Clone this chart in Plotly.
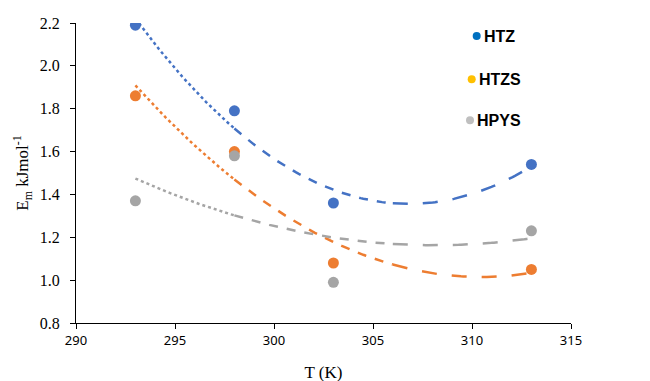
import numpy as np
import plotly.graph_objects as go

T = [293, 298, 303, 313]
htz = [2.19, 1.79, 1.36, 1.54]
htzs = [1.86, 1.60, 1.08, 1.05]
hpys = [1.37, 1.58, 0.99, 1.23]
names = ["HTZ", "HTZS", "HPYS"]
series = [htz, htzs, hpys]
colors = ["#4472C4", "#ED7D31", "#A5A5A5"]
legend_colors = ["#0070C0", "#FFC000", "#BFBFBF"]
x_ticks = [290, 295, 300, 305, 310, 315]
y_ticks = [0.8, 1.0, 1.2, 1.4, 1.6, 1.8, 2.0, 2.2]

fig = go.Figure()

# polynomial (order 2) trendlines, split into dotted / dashed / long-dashed parts
segments = [(293, 298, "dot"), (298, 306, "dash"), (306, 313, "longdash")]
for vals, c in zip(series, colors):
    coef = np.polyfit(T, vals, 2)
    for a, b, d in segments:
        xs = np.linspace(a, b, 60)
        fig.add_trace(go.Scatter(x=xs, y=np.polyval(coef, xs), mode="lines",
                                 line=dict(color=c, width=2.5, dash=d),
                                 hoverinfo="skip", showlegend=False))

for vals, c, n in zip(series, colors, names):
    fig.add_trace(go.Scatter(x=T, y=vals, mode="markers", name=n,
                             marker=dict(color=c, size=11), showlegend=False))

# custom legend (page has an 8px body margin, so compensate)
OFF = 8
W, H = 650, 381
L, Tp = 76 - OFF, 22.7 - OFF
pw, ph = 495, 300
leg_pos = [(476.7, 35.7), (471.7, 79), (470, 120)]
for (px, py), n, c in zip(leg_pos, names, legend_colors):
    xp = (px - OFF - L) / pw
    yp = (Tp + ph - (py - OFF)) / ph
    r = 4
    fig.add_shape(type="circle", xref="paper", yref="paper",
                  xsizemode="pixel", ysizemode="pixel", xanchor=xp, yanchor=yp,
                  x0=-r, x1=r, y0=-r, y1=r, fillcolor=c, line=dict(width=0))
    fig.add_annotation(x=xp, y=yp, xref="paper", yref="paper", xshift=5,
                       text="<b>%s</b>" % n, showarrow=False, xanchor="left",
                       yanchor="middle",
                       font=dict(family="Liberation Sans", size=16, color="#000"))

fig.update_layout(
    width=W, height=H, margin=dict(l=L, r=W - L - pw, t=Tp, b=H - Tp - ph),
    plot_bgcolor="white", paper_bgcolor="white", showlegend=False,
    xaxis=dict(range=[290, 315], tickvals=x_ticks, showgrid=False, zeroline=False,
               automargin=False,
               showline=True, linecolor="#000", linewidth=1, ticks="outside",
               ticklen=5, tickcolor="#000",
               tickfont=dict(family="Noto Sans", size=13, color="#000"),
               title=dict(text="T (K)", standoff=18,
                          font=dict(family="Liberation Serif", size=17, color="#000"))),
    yaxis=dict(range=[0.8, 2.2], tickvals=y_ticks, tickformat=".1f", showgrid=False,
               automargin=False, ticklabelstandoff=7,
               zeroline=False, showline=True, linecolor="#000", linewidth=1,
               ticks="outside", ticklen=5, tickcolor="#000",
               tickfont=dict(family="Liberation Serif", size=16, color="#000"),
               title=dict(text="E<sub>m</sub> kJmol<sup>-1</sup>", standoff=6,
                          font=dict(family="Liberation Serif", size=17, color="#000"))),
)

fig.write_html("out.html")
